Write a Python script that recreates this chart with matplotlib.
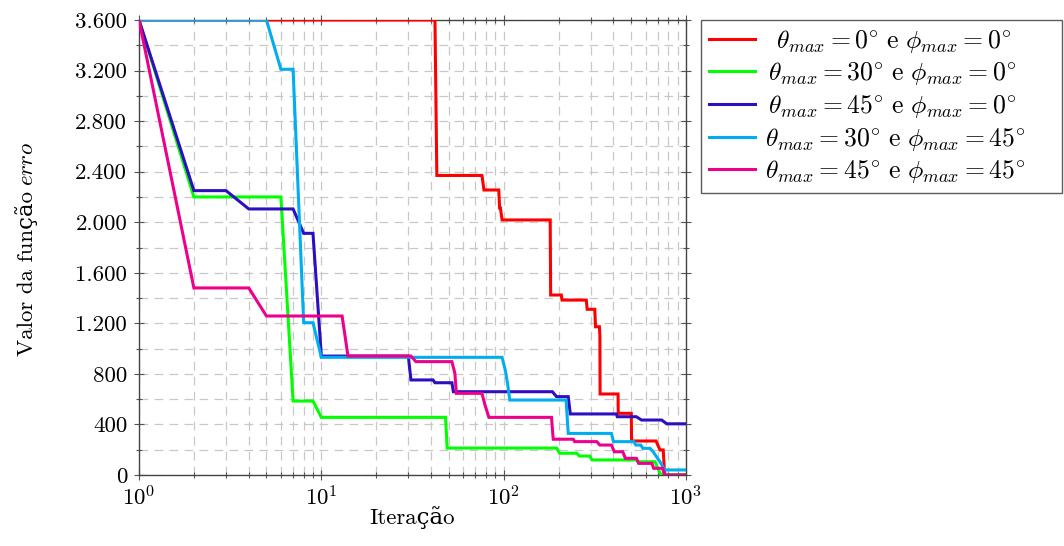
import matplotlib as mpl

mpl.use("Agg")

import matplotlib.pyplot as plt
from matplotlib.ticker import FixedLocator, FuncFormatter, LogLocator

# data (iteration, error value)
RED_IT = [1, 42, 43, 76, 78, 94, 95, 96, 98, 180, 181, 207, 209, 284, 287, 316, 319, 335, 337, 338,
          424, 425, 501, 503, 685, 720, 750, 760, 765, 1000]
RED_VAL = [3600, 3600, 2370, 2370, 2255, 2255, 2113, 2113, 2018, 2018, 1424, 1424, 1384, 1384, 1311, 1311,
           1173, 1173, 1108, 641, 641, 488, 488, 269, 269, 198, 198, 53, 0, 0]

GREEN_IT = [1, 2, 6, 7, 9, 10, 48, 49, 195, 203, 252, 260, 297, 305, 534, 545, 676, 720, 730, 1000]
GREEN_VAL = [3600, 2200, 2200, 585, 585, 456, 456, 213, 213, 172, 172, 150, 150, 119, 119, 105, 105, 13, 0, 0]

BLUE_IT = [1, 2, 3, 4, 7, 8, 9, 10, 30, 31, 41, 42, 52, 53, 185, 195, 226, 232, 415, 420, 534, 570,
           735, 785, 1000]
BLUE_VAL = [3600, 2250, 2250, 2105, 2105, 1912, 1912, 941, 941, 752, 752, 730, 730, 659, 659, 620, 620,
            483, 483, 461, 461, 435, 435, 405, 405]

CYAN_IT = [1, 5, 6, 7, 8, 9, 10, 98, 102, 105, 108, 220, 226, 390, 400, 518, 530, 565, 580, 635, 660,
           700, 720, 764, 1000]
CYAN_VAL = [3600, 3600, 3210, 3210, 1205, 1205, 931, 931, 831, 725, 593, 593, 329, 329, 264, 264, 237,
            237, 211, 211, 184, 130, 105, 40, 40]

PINK_IT = [1, 2, 4, 5, 13, 14, 31, 33, 52, 54, 55, 76, 79, 83, 183, 187, 241, 245, 324, 337, 390, 405,
           450, 465, 535, 550, 650, 665, 745, 760, 1000]
PINK_VAL = [3600, 1480, 1480, 1258, 1258, 941, 941, 897, 897, 805, 646, 646, 554, 456, 456, 283, 283,
            264, 264, 237, 237, 184, 184, 132, 132, 92, 92, 53, 53, 0, 0]

LABELS = [
    r"$\ \,\theta_{max} = 0^{\circ}\ \mathrm{e}\ \phi_{max} = 0^{\circ}$",
    r"$\,\theta_{max} = 30^{\circ}\ \mathrm{e}\ \phi_{max} = 0^{\circ}$",
    r"$\,\theta_{max} = 45^{\circ}\ \mathrm{e}\ \phi_{max} = 0^{\circ}$",
    r"$\theta_{max} = 30^{\circ}\ \mathrm{e}\ \phi_{max} = 45^{\circ}$",
    r"$\theta_{max} = 45^{\circ}\ \mathrm{e}\ \phi_{max} = 45^{\circ}$",
]
COLORS = ["#ff0000", "#00ff00", "#2e0fbf", "#00aeef", "#ec008c"]
Y_TICKS = list(range(0, 3601, 400))
Y_MINOR = list(range(0, 3601, 200))

FS = 16.5
W, H = 1064, 546

mpl.rcParams.update(
    {
        "font.family": ["cmr10", "DejaVu Serif"],
        "mathtext.fontset": "cm",
        "axes.formatter.use_mathtext": True,
        "axes.unicode_minus": False,
    }
)

fig = plt.figure(figsize=(W / 100, H / 100), dpi=100)
ax = fig.add_axes([139 / W, 1 - 475 / H, 547 / W, 455 / H])

series = [(RED_IT, RED_VAL), (GREEN_IT, GREEN_VAL), (BLUE_IT, BLUE_VAL),
          (CYAN_IT, CYAN_VAL), (PINK_IT, PINK_VAL)]
for (xs, ys), color, label in zip(series, COLORS, LABELS):
    ax.plot(xs, ys, color=color, lw=2.2, label=label, solid_joinstyle="miter", zorder=3)

ax.set_xscale("log")
ax.set_xlim(1, 1000)
ax.set_ylim(0, 3600)
ax.xaxis.set_major_locator(LogLocator(base=10))
ax.xaxis.set_minor_locator(LogLocator(base=10, subs=range(2, 10)))
ax.yaxis.set_major_locator(FixedLocator(Y_TICKS))
ax.yaxis.set_minor_locator(FixedLocator(Y_MINOR))
ax.yaxis.set_major_formatter(FuncFormatter(lambda v, _: f"{v:,.0f}".replace(",", ".")))

ax.grid(True, which="both", color="#c8c8c8", linestyle=(0, (7, 5)), linewidth=0.9, zorder=0)
ax.set_axisbelow(True)
ax.tick_params(which="both", direction="inout", top=True, right=True, color="#555555", width=0.8)
ax.tick_params(which="major", length=7, labelsize=FS)
ax.tick_params(which="minor", length=5)
ax.tick_params(axis="y", which="major", pad=5)
for spine in ax.spines.values():
    spine.set_color("#444444")
    spine.set_linewidth(1.0)

ax.set_xlabel("Iteração", fontsize=FS, labelpad=-2)

# y label: plain part and italic part as two texts sharing one baseline
t1 = fig.text(33 / W, 0.3, "Valor da função", rotation=90, rotation_mode="anchor",
              ha="left", va="baseline", fontsize=FS)
t2 = fig.text(33 / W, 0.6, r"$\mathit{erro}$", rotation=90, rotation_mode="anchor",
              ha="left", va="baseline", fontsize=FS)

leg = ax.legend(loc="upper left", bbox_to_anchor=(701 / W, 1 - 20 / H, 361 / W, 0.0),
                bbox_transform=fig.transFigure, mode="expand", fontsize=18.5, frameon=True,
                fancybox=False, edgecolor="#333333", handlelength=1.8, handletextpad=0.4,
                borderpad=0.3, labelspacing=0.22, borderaxespad=0)
leg.get_frame().set_linewidth(1.0)

fig.canvas.draw()
renderer = fig.canvas.get_renderer()
h1 = t1.get_window_extent(renderer).height
h2 = t2.get_window_extent(renderer).height
gap = 0.3 * FS
start = (H - 249) - (h1 + gap + h2) / 2
t1.set_position((33 / W, start / H))
t2.set_position((33 / W, (start + h1 + gap) / H))

fig.savefig("out.png", dpi=100)
